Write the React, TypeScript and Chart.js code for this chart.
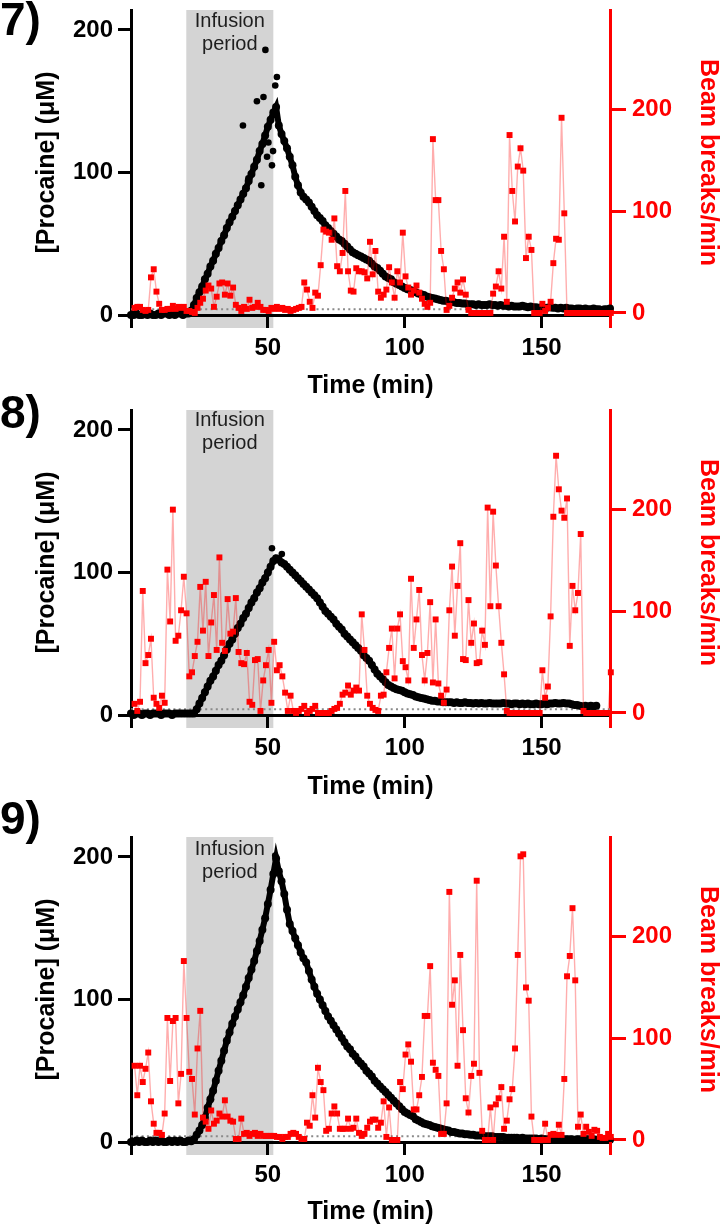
import React, { useEffect, useRef } from "react";
import { Chart, registerables } from "chart.js";

Chart.register(...registerables);

const FONT = '"Liberation Sans", Arial, Helvetica, sans-serif';
Chart.defaults.font.family = FONT;

// ---------- axis ticks & constants ----------
const X_TICKS = [50, 100, 150];
const LEFT_TICKS = [0, 100, 200];
const RIGHT_TICKS = [0, 100, 200];
const X_MIN = 0;
const X_MAX = 175;
const LEFT_MAX = 214;
const RIGHT_MIN = -2;
const RIGHT_MAX = 298;
const INFUSION_START = 20.2;
const INFUSION_END = 52;
const LOD_LEVEL = 4;
const PROC_T0 = 0; // procaine sampled every minute from t = 0
const BEAM_T0 = 1.3; // beam breaks sampled every minute from t = 1.3

// ---------- Panel 7 ----------
const procaine7 = [
  0, 0, 1, 0, 0, 1, 0, 1, 0, 0, 1, 0, 1, 1, 0, 1, 0, 1, 1, 0, 1, 1,
  3, 7, 12, 16, 20, 25, 29, 34, 38, 43, 47, 52, 56, 61, 65, 69, 73, 77, 81, 85, 89, 94, 99, 104, 109, 115, 120, 126, 132, 137, 142, 146,
  133, 127, 122, 117, 111, 105, 97, 91, 86, 83,
  81, 79, 76, 73, 70, 68, 66, 63, 61, 59,
  57, 55, 53, 52, 50, 48, 46, 44, 43, 42,
  41, 40, 39, 38, 36, 34, 33, 31, 29, 27,
  26, 25, 23, 22, 21, 20, 19, 18, 17.5, 17,
  16, 15, 14.5, 14, 13, 12.5, 12, 11.5, 11, 10.5,
  10, 10, 9.5, 9, 9, 8.5, 8.5, 8, 8, 7.5,
  7.5, 7.5, 7, 7.5, 7, 7, 7, 7.5, 7, 7,
  6.5, 7, 6.5, 6.5, 6, 6.5, 6, 6, 6, 6.5,
  6, 5.5, 6, 5.5, 5.5, 5, 5.5, 5, 5, 5.5,
  5, 5, 4.5, 5, 4.5, 5, 4.5, 4.5, 4, 4.5,
  4.5, 4, 4.5, 4, 4, 4.5, 4, 4, 3.5, 4, 4, 4.5,
];
const outlierTime7 = [40.9, 42.9, 46.0, 47.6, 48.4, 49.1, 49.7, 50.2, 51.5, 51.9, 52.7, 53.3];
const outlierConc7 = [133, 96, 150, 91, 153, 186, 111, 121, 105, 115, 161, 167];
const beam7 = [
  5, 6, 6, 3, 2, 3, 35, 43, 21, 9,
  3, 3, 4, 4, 7, 4, 6, 5, 6, 2,
  2, 1, 0, 5, 10, 14, 22, 27, 24, 6,
  16, 29, 30, 18, 29, 17, 25, 8, 5, 2,
  6, 4, 13, 5, 6, 10, 6, 3, 3, 2,
  5, 4, 6, 4, 5, 3, 4, 2, 3, 4,
  5, 6, 30, 23, 11, 5, 20, 17, 47, 82,
  80, 79, 72, 93, 46, 41, 59, 120, 41, 22,
  21, 44, 41, 41, 40, 34, 70, 38, 61, 21,
  15, 18, 23, 45, 30, 15, 41, 30, 79, 36,
  25, 18, 22, 27, 20, 14, 9, 6, 10, 171,
  111, 111, 61, 43, 3, 7, 15, 24, 30, 20,
  33, 18, 3, 0, 0, 0, 0, 0, 0, 0,
  0, 19, 26, 41, 24, 75, 11, 175, 120, 90,
  144, 162, 140, 54, 75, 62, 0, 0, 0, 9,
  2, 5, 11, 49, 73, 72, 192, 98, 0, 0,
  0, 0, 0, 0, 0, 0, 0, 0, 0, 0,
  0, 0, 0, 0, 0,
];

// ---------- Panel 8 ----------
const procaine8 = [
  1, 0, 1, 1, 0, 1, 1, 0, 1, 1, 1, 0, 1, 1, 1, 0, 1, 1, 1, 1, 1, 1,
  1, 1, 4, 8, 12, 16, 20, 24, 27, 31, 35, 38, 42, 46, 50, 53, 57, 61, 64, 68, 71, 75, 79, 82, 86, 89, 93, 96, 100, 104, 108, 110,
  109, 107, 106, 104, 102, 100, 98, 96, 94, 92,
  90, 88, 86, 84, 82, 79, 76, 73, 71, 69,
  67, 64, 62, 60, 57, 55, 53, 51, 49, 47,
  45, 42, 40, 38, 35, 32, 29, 27, 25, 23,
  21, 20, 19, 18, 17.5, 17, 16, 15, 14.5, 14,
  13, 12.5, 12, 11.5, 11, 10.5, 10, 10, 9.5, 9.5,
  9, 9, 9, 9, 8.5, 9, 8.5, 8.5, 9, 8.5,
  8.5, 8, 8.5, 8, 8.5, 8, 8, 8.5, 8, 8,
  8, 8, 8.5, 8, 8, 7.5, 8, 8, 7.5, 8,
  7.5, 8, 7.5, 7.5, 8, 7.5, 7.5, 8, 7.5, 8,
  8, 8.5, 8, 8, 8.5, 8, 8, 7.5, 7, 7,
  6.5, 6, 6.5, 6, 6.5, 6, 6.5,
];
const outlierTime8 = [51.5, 55.1];
const outlierConc8 = [117, 113];
const beam8 = [
  9, 2, 11, 120, 49, 57, 73, 15, 9, 5,
  17, 10, 141, 90, 200, 71, 76, 101, 134, 98,
  36, 40, 56, 70, 124, 81, 129, 56, 89, 116,
  62, 153, 69, 61, 112, 78, 80, 113, 60, 49,
  48, 59, 11, 8, 52, 53, 2, 32, 47, 62,
  10, 70, 42, 47, 36, 20, 2, 17, 2, 0,
  2, 4, 7, 0, 2, 4, 7, 0, 0, 0,
  0, 0, 2, 4, 5, 9, 18, 20, 27, 18,
  22, 25, 22, 97, 62, 17, 9, 5, 3, 2,
  17, 18, 40, 64, 83, 34, 83, 97, 51, 45,
  32, 132, 64, 92, 121, 57, 32, 59, 109, 30,
  92, 29, 17, 10, 23, 101, 144, 76, 125, 167,
  53, 52, 111, 69, 88, 49, 50, 81, 67, 202,
  105, 198, 145, 105, 69, 38, 2, 0, 0, 0,
  0, 0, 0, 0, 0, 0, 0, 0, 0, 42,
  15, 26, 95, 193, 253, 220, 199, 192, 211, 66,
  125, 101, 118, 176, 2, 0, 0, 0, 0, 0,
  0, 0, 0, 0, 40,
];

// ---------- Panel 9 ----------
const procaine9 = [
  0, 0, 1, 0, 1, 0, 0, 1, 0, 1, 0, 1, 0, 0, 1, 0, 1, 0, 1, 0, 0, 1,
  0.5, 2, 5, 8, 12, 17, 24, 30, 36, 43, 50, 57, 64, 71, 77, 83, 88, 93, 98, 103, 109, 115, 121, 127, 134, 141, 149, 157, 167, 177, 188, 199,
  190, 183, 174, 163, 153, 148, 143, 138, 133, 129,
  126, 120, 114, 109, 104, 100, 96, 92, 88, 85,
  82, 79, 76, 73, 70, 67, 65, 62, 60, 57,
  55, 53, 50, 48, 46, 43, 41, 39, 37, 35,
  33, 31, 29, 27, 25, 23, 21, 20, 19, 18,
  16, 15, 14, 13, 12.5, 12, 11, 10.5, 10, 9.5,
  9, 8.5, 8, 7, 7, 6.5, 6, 6, 5.5, 5.5,
  5, 5, 4.5, 4.5, 4.5, 4, 4, 4, 4, 3.5,
  3.5, 3.5, 3.5, 3, 3, 3, 3, 3, 2.5, 3,
  2.5, 2.5, 2.5, 2.5, 2.5, 2, 2.5, 2, 2, 2,
  2, 2, 2, 2, 2, 2, 2, 2, 1.5, 2,
  2, 1.5, 2, 2, 1.5, 2, 1.5, 2, 1.5, 1.5, 2, 1.5,
];
const outlierTime9 = [52.7];
const outlierConc9 = [201];
const beam9 = [
  73, 44, 73, 57, 70, 86, 38, 16, 7, 7,
  5, 26, 120, 58, 117, 120, 36, 65, 176, 120,
  67, 60, 25, 90, 127, 22, 18, 11, 29, 16,
  19, 26, 23, 39, 23, 19, 18, 1, 1, 21,
  6, 7, 4, 6, 7, 4, 6, 4, 4, 4,
  4, 4, 3, 3, 1, 3, 3, 6, 7, 6,
  3, 1, 1, 17, 14, 44, 22, 71, 57, 49,
  9, 11, 26, 33, 26, 11, 11, 11, 21, 11,
  12, 21, 7, 4, 6, 12, 18, 20, 20, 12,
  17, 38, 3, 32, 0, 0, 0, 57, 50, 84,
  94, 77, 30, 30, 44, 62, 122, 122, 171, 76,
  69, 63, 6, 6, 36, 244, 133, 157, 73, 182,
  108, 41, 27, 63, 75, 255, 66, 9, 0, 0,
  32, 0, 35, 41, 52, 11, 19, 40, 50, 90,
  182, 279, 281, 150, 137, 23, 0, 0, 0, 0,
  16, 0, 5, 6, 5, 15, 5, 60, 161, 181,
  228, 157, 13, 25, 6, 13, 8, 4, 10, 9,
  3, 2, 2, 6, 3,
];

// ---------- panel layout ----------
type PanelCfg = {
  label: string;
  procaine: number[];
  outT: number[];
  outV: number[];
  beam: number[];
  top: number;
  height: number;
  padTop: number;
  xHeight: number;
  titlePad: number;
  labelTop: number;
  textOffset: number;
};

const PANELS: PanelCfg[] = [
  { label: "7)", procaine: procaine7, outT: outlierTime7, outV: outlierConc7, beam: beam7, top: 0, height: 401, padTop: 10, xHeight: 86, titlePad: 0, labelTop: -4, textOffset: 17 },
  { label: "8)", procaine: procaine8, outT: outlierTime8, outV: outlierConc8, beam: beam8, top: 401, height: 401, padTop: 9, xHeight: 87, titlePad: 0, labelTop: 389, textOffset: 16 },
  { label: "9)", procaine: procaine9, outT: outlierTime9, outV: outlierConc9, beam: beam9, top: 802, height: 427, padTop: 35, xHeight: 87, titlePad: 2, labelTop: 795, textOffset: 18 },
];

const TICK_LEN = 13;

function alignPx(v: number, w: number) {
  return Math.round(v - w / 2) + w / 2;
}

function buildChart(canvas: HTMLCanvasElement, p: PanelCfg) {
  const procData = p.procaine.map((v, i) => ({ x: PROC_T0 + i, y: v }));
  const outData = p.outT.map((t, i) => ({ x: t, y: p.outV[i] }));
  const beamData = p.beam.map((v, i) => ({ x: BEAM_T0 + i, y: v }));
  const tickFont = { family: FONT, size: 24, weight: "bold" as const, lineHeight: 1.2 };
  const titleFont = { family: FONT, size: 25, weight: "bold" as const, lineHeight: 1.2 };

  const decor = {
    id: "decor",
    beforeDraw(chart: any) {
      const { ctx, chartArea: a, scales } = chart;
      const x0 = scales.x.getPixelForValue(INFUSION_START);
      const x1 = scales.x.getPixelForValue(INFUSION_END);
      ctx.save();
      ctx.fillStyle = "#d4d4d4";
      ctx.fillRect(x0, a.top, x1 - x0, a.bottom - a.top + TICK_LEN);
      ctx.fillStyle = "#1e1e1e";
      ctx.font = `20px ${FONT}`;
      ctx.textAlign = "center";
      ctx.textBaseline = "alphabetic";
      const cx = (x0 + x1) / 2;
      ctx.fillText("Infusion", cx, a.top + p.textOffset);
      ctx.fillText("period", cx, a.top + p.textOffset + 23);
      ctx.restore();
    },
    afterDraw(chart: any) {
      const { ctx, chartArea: a } = chart;
      ctx.save();
      ctx.lineWidth = 3;
      ctx.lineCap = "butt";
      ctx.strokeStyle = "#000";
      const lx = alignPx(a.left, 3);
      ctx.beginPath();
      ctx.moveTo(lx, a.bottom);
      ctx.lineTo(lx, a.bottom + TICK_LEN);
      ctx.stroke();
      ctx.strokeStyle = "#ff0000";
      const rx = alignPx(a.right, 3);
      ctx.beginPath();
      ctx.moveTo(rx, a.bottom);
      ctx.lineTo(rx, a.bottom + TICK_LEN);
      ctx.stroke();
      ctx.restore();
    },
  };

  return new Chart(canvas, {
    type: "scatter",
    data: {
      datasets: [
        {
          type: "line",
          data: [
            { x: X_MIN, y: LOD_LEVEL },
            { x: X_MAX, y: LOD_LEVEL },
          ],
          yAxisID: "y",
          borderColor: "#8a8a8a",
          borderWidth: 2,
          borderDash: [2, 3.3],
          pointRadius: 0,
          order: 3,
          clip: false,
        } as any,
        {
          type: "line",
          data: procData,
          yAxisID: "y",
          borderColor: "#000",
          backgroundColor: "#000",
          borderWidth: 6,
          tension: 0,
          pointRadius: 4,
          pointBorderWidth: 0,
          pointBackgroundColor: "#000",
          order: 2,
          clip: false,
        } as any,
        {
          type: "scatter",
          data: outData,
          yAxisID: "y",
          pointRadius: 3.3,
          pointBorderWidth: 0,
          pointBackgroundColor: "#000",
          backgroundColor: "#000",
          order: 2,
          clip: false,
        } as any,
        {
          type: "line",
          data: beamData,
          yAxisID: "y1",
          borderColor: "rgba(255,0,0,0.32)",
          borderWidth: 1.4,
          tension: 0,
          pointStyle: "rect",
          pointRadius: 4.2,
          pointBorderWidth: 0,
          pointBackgroundColor: "#ff0000",
          pointBorderColor: "#ff0000",
          order: 1,
          clip: false,
        } as any,
      ],
    },
    options: {
      animation: false,
      responsive: false,
      devicePixelRatio: 1,
      events: [],
      layout: { padding: { top: p.padTop, left: 0, right: 0, bottom: 0 } },
      plugins: { legend: { display: false }, tooltip: { enabled: false } },
      scales: {
        x: {
          type: "linear",
          position: "bottom",
          min: X_MIN,
          max: X_MAX,
          border: { display: true, color: "#000", width: 3 },
          grid: { display: true, drawOnChartArea: false, drawTicks: true, tickLength: TICK_LEN, tickWidth: 3, tickColor: "#000", color: "#000", lineWidth: 3 },
          ticks: { color: "#000", font: tickFont, padding: 6, maxRotation: 0, autoSkip: false },
          afterBuildTicks: (s: any) => {
            s.ticks = X_TICKS.map((v) => ({ value: v }));
          },
          afterFit: (s: any) => {
            s.height = p.xHeight;
            s.paddingLeft = 0;
            s.paddingRight = 0;
          },
          title: { display: true, text: "Time (min)", color: "#000", font: titleFont, padding: { top: 0, bottom: p.titlePad } },
        },
        y: {
          type: "linear",
          position: "left",
          min: 0,
          max: LEFT_MAX,
          border: { display: true, color: "#000", width: 3 },
          grid: { display: true, drawOnChartArea: false, drawTicks: true, tickLength: TICK_LEN, tickWidth: 3, tickColor: "#000", color: "#000", lineWidth: 3 },
          ticks: { color: "#000", font: tickFont, padding: 5 },
          afterBuildTicks: (s: any) => {
            s.ticks = LEFT_TICKS.map((v) => ({ value: v }));
          },
          afterFit: (s: any) => {
            s.width = 131;
            s.paddingTop = 0;
            s.paddingBottom = 0;
          },
          title: { display: true, text: "[Procaine] (μM)", color: "#000", font: titleFont, padding: { top: 32, bottom: 0 } },
        },
        y1: {
          type: "linear",
          position: "right",
          min: RIGHT_MIN,
          max: RIGHT_MAX,
          border: { display: true, color: "#ff0000", width: 3 },
          grid: { display: true, drawOnChartArea: false, drawTicks: true, tickLength: 16, tickWidth: 3, tickColor: "#ff0000", color: "#ff0000", lineWidth: 3 },
          ticks: { color: "#ff0000", font: tickFont, padding: 6 },
          afterBuildTicks: (s: any) => {
            s.ticks = RIGHT_TICKS.map((v) => ({ value: v }));
          },
          afterFit: (s: any) => {
            s.width = 110;
            s.paddingTop = 0;
            s.paddingBottom = 0;
          },
          title: { display: true, text: "Beam breaks/min", color: "#ff0000", font: { ...titleFont, lineHeight: 1 }, padding: { top: 0, bottom: 0 } },
        },
      },
    } as any,
    plugins: [decor],
  });
}

function Panel({ cfg }: { cfg: PanelCfg }) {
  const ref = useRef<HTMLCanvasElement>(null);
  useEffect(() => {
    if (!ref.current) return;
    const chart = buildChart(ref.current, cfg);
    return () => chart.destroy();
  }, [cfg]);
  return (
    <canvas
      ref={ref}
      width={720}
      height={cfg.height}
      style={{ position: "absolute", left: 0, top: cfg.top, width: 720, height: cfg.height, display: "block" }}
    />
  );
}

export default function App() {
  return (
    <div style={{ position: "absolute", left: 0, top: 0, width: 720, height: 1229, background: "#fff", overflow: "hidden" }}>
      {PANELS.map((p) => (
        <Panel key={p.label} cfg={p} />
      ))}
      {PANELS.map((p) => (
        <div
          key={"lbl" + p.label}
          style={{ position: "absolute", left: 0, top: p.labelTop, fontFamily: FONT, fontWeight: "bold", fontSize: 46, lineHeight: "46px", color: "#000", whiteSpace: "nowrap" }}
        >
          {p.label}
        </div>
      ))}
    </div>
  );
}
